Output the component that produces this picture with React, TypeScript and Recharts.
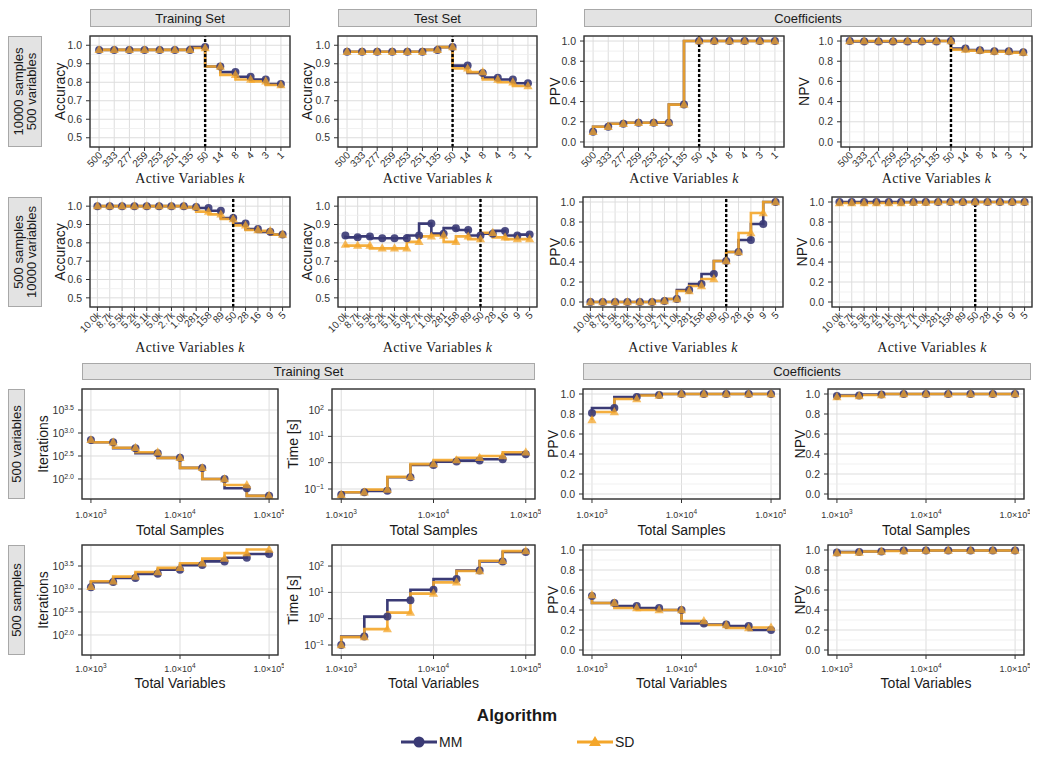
import React from 'react'
import { LineChart, Line, XAxis, YAxis, CartesianGrid, ReferenceLine } from 'recharts'

const NAVY = '#3a3a75'
const GOLD = '#f4a62a'
const INK = '#333333'
const SANS = '"Liberation Sans", Arial, Helvetica, sans-serif'
const SERIF = '"Liberation Serif", "DejaVu Serif", serif'

// 10000 samples / 500 variables, active variables k
const kTop = ['500', '333', '277', '259', '253', '251', '135', '50', '14', '8', '4', '3', '1']
const topTrainMM = [0.975, 0.975, 0.975, 0.975, 0.975, 0.975, 0.975, 0.99, 0.885, 0.855, 0.83, 0.815, 0.79]
const topTrainSD = [0.975, 0.975, 0.975, 0.975, 0.975, 0.975, 0.975, 0.985, 0.885, 0.84, 0.815, 0.805, 0.785]
const topTestMM = [0.965, 0.965, 0.965, 0.965, 0.965, 0.965, 0.975, 0.99, 0.89, 0.85, 0.825, 0.815, 0.795]
const topTestSD = [0.965, 0.965, 0.965, 0.965, 0.965, 0.965, 0.975, 0.99, 0.875, 0.855, 0.815, 0.8, 0.78]
const topPpvMM = [0.1, 0.15, 0.18, 0.19, 0.19, 0.19, 0.37, 1, 1, 1, 1, 1, 1]
const topPpvSD = [0.1, 0.15, 0.18, 0.19, 0.19, 0.195, 0.37, 1, 1, 1, 1, 1, 1]
const topNpvMM = [1, 0.995, 0.995, 0.995, 0.995, 0.995, 0.995, 1, 0.925, 0.91, 0.9, 0.9, 0.89]
const topNpvSD = [1, 1, 1, 1, 1, 1, 1, 1, 0.915, 0.905, 0.895, 0.895, 0.885]

// 500 samples / 10000 variables
const kMid = ['10.0k', '8.7k', '5.5k', '5.2k', '5.1k', '5.0k', '2.7k', '1.0k', '281', '158', '89', '50', '28', '16', '9', '5']
const midTrainMM = [1, 1, 1, 1, 1, 1, 1, 1, 0.995, 0.99, 0.975, 0.935, 0.905, 0.875, 0.86, 0.845]
const midTrainSD = [1, 1, 1, 1, 1, 1, 1, 1, 0.995, 0.97, 0.955, 0.93, 0.895, 0.87, 0.865, 0.845]
const midTestMM = [0.84, 0.83, 0.835, 0.825, 0.825, 0.825, 0.84, 0.905, 0.85, 0.88, 0.87, 0.84, 0.85, 0.865, 0.84, 0.845]
const midTestSD = [0.79, 0.785, 0.785, 0.77, 0.77, 0.77, 0.805, 0.835, 0.84, 0.805, 0.835, 0.82, 0.855, 0.83, 0.82, 0.82]
const midPpvMM = [0, 0, 0, 0, 0, 0, 0.01, 0.03, 0.12, 0.18, 0.28, 0.41, 0.5, 0.62, 0.78, 1]
const midPpvSD = [0, 0, 0, 0, 0, 0, 0.01, 0.03, 0.11, 0.16, 0.23, 0.41, 0.5, 0.69, 0.89, 1]
const midNpvMM = [1, 1, 1, 1, 1, 1, 1, 1, 1, 1, 1, 1, 1, 1, 1, 1]
const midNpvSD = [0.99, 0.99, 0.99, 0.99, 0.99, 0.99, 0.995, 0.995, 1, 1, 1, 1, 1, 1, 1, 1]

// problem sizes on the log axis
const sizes = [1000, 1778, 3162, 5623, 10000, 17783, 31623, 56234, 100000]
const itSampMM = [708, 631, 468, 363, 288, 174, 100, 63, 43]
const itSampSD = [708, 631, 479, 380, 288, 174, 100, 74, 43]
const timeSampMM = [0.06, 0.075, 0.085, 0.28, 0.82, 1.1, 1.2, 1.35, 2.1]
const timeSampSD = [0.06, 0.075, 0.095, 0.29, 0.88, 1.25, 1.55, 1.8, 2.5]
const ppvSampMM = [0.81, 0.86, 0.97, 0.99, 1, 1, 1, 1, 1]
const ppvSampSD = [0.74, 0.82, 0.95, 0.985, 1, 1, 1, 1, 1]
const npvSampMM = [0.98, 0.985, 0.995, 1, 1, 1, 1, 1, 1]
const npvSampSD = [0.97, 0.98, 0.99, 1, 1, 1, 1, 1, 1]

const itVarMM = [1096, 1413, 1738, 2138, 2630, 3311, 3981, 4786, 5754]
const itVarSD = [1122, 1479, 1862, 2344, 2884, 3631, 4571, 6026, 7244]
const timeVarMM = [0.1, 0.21, 1.2, 5, 12.5, 32, 68, 150, 340]
const timeVarSD = [0.1, 0.2, 0.4, 1.7, 9, 24, 65, 160, 370]
const ppvVarMM = [0.54, 0.47, 0.44, 0.42, 0.4, 0.265, 0.255, 0.24, 0.2]
const ppvVarSD = [0.55, 0.47, 0.42, 0.4, 0.4, 0.29, 0.25, 0.22, 0.225]
const npvVarMM = [0.975, 0.98, 0.985, 0.995, 0.995, 0.995, 0.995, 0.995, 0.995]
const npvVarSD = [0.97, 0.975, 0.985, 0.99, 0.995, 0.995, 0.995, 0.995, 0.995]

const accTicks = [0.5, 0.6, 0.7, 0.8, 0.9, 1.0]
const accMinor = [0.55, 0.65, 0.75, 0.85, 0.95]
const rateTicks = [0, 0.2, 0.4, 0.6, 0.8, 1]
const rateMinor = [0.1, 0.3, 0.5, 0.7, 0.9]
const iterTicks = [100, 316.23, 1000, 3162.28]
const timeTicks = [0.1, 1, 10, 100]
const sizeTicks = [1000, 10000, 100000]

type Pt = { x: string | number; mm: number; sd: number }
const zip = (xs: (string | number)[], mm: number[], sd: number[]): Pt[] =>
  xs.map((x, i) => ({ x, mm: mm[i], sd: sd[i] }))

type Fmt = (v: number) => [string, string]
const plain: Fmt = v => [v.toFixed(1), '']
const pow10: Fmt = v => ['10', String(Math.round(Math.log10(v))).replace('-', '\u2212')]
const pow10half: Fmt = v => ['10', Math.log10(v).toFixed(1)]
const sci: Fmt = v => ['1.0\u00d710', String(Math.round(Math.log10(v)))]

interface YSpec { domain: [number, number]; ticks: number[]; minor: number[]; log?: boolean; fmt: Fmt }
const accY: YSpec = { domain: [0.45, 1.05], ticks: accTicks, minor: accMinor, fmt: plain }
const rateY: YSpec = { domain: [-0.05, 1.05], ticks: rateTicks, minor: rateMinor, fmt: plain }
const iterY: YSpec = { domain: [36.7, 9057], ticks: iterTicks, minor: [], log: true, fmt: pow10half }
const timeY: YSpec = { domain: [0.0417, 631], ticks: timeTicks, minor: [], log: true, fmt: pow10 }

interface Spec {
  left: number; top: number; w: number; h: number
  data: Pt[]; y: YSpec; title: string; off: number
  xTitle: string; xTitleY: number
  logX?: boolean; cut?: string; tickGap?: number
}

const AV = 'Active Variables'
const panels: Spec[] = [
  { left: 90, top: 36, w: 200, h: 111, data: zip(kTop, topTrainMM, topTrainSD), y: accY, title: 'Accuracy', off: 30, xTitle: AV, xTitleY: 178, cut: '50' },
  { left: 338, top: 36, w: 199, h: 111, data: zip(kTop, topTestMM, topTestSD), y: accY, title: 'Accuracy', off: 31, xTitle: AV, xTitleY: 178, cut: '50' },
  { left: 584, top: 36, w: 200, h: 111, data: zip(kTop, topPpvMM, topPpvSD), y: rateY, title: 'PPV', off: 29, xTitle: AV, xTitleY: 178, cut: '50' },
  { left: 841, top: 36, w: 191, h: 111, data: zip(kTop, topNpvMM, topNpvSD), y: rateY, title: 'NPV', off: 37, xTitle: AV, xTitleY: 178, cut: '50' },

  { left: 90, top: 197, w: 200, h: 110, data: zip(kMid, midTrainMM, midTrainSD), y: accY, title: 'Accuracy', off: 30, xTitle: AV, xTitleY: 347, cut: '50' },
  { left: 338, top: 197, w: 199, h: 110, data: zip(kMid, midTestMM, midTestSD), y: accY, title: 'Accuracy', off: 31, xTitle: AV, xTitleY: 347, cut: '50' },
  { left: 583, top: 197, w: 200, h: 110, data: zip(kMid, midPpvMM, midPpvSD), y: rateY, title: 'PPV', off: 28, xTitle: AV, xTitleY: 347, cut: '50' },
  { left: 832, top: 197, w: 200, h: 110, data: zip(kMid, midNpvMM, midNpvSD), y: rateY, title: 'NPV', off: 30, xTitle: AV, xTitleY: 347, cut: '50' },

  { left: 82, top: 389, w: 196, h: 110, data: zip(sizes, itSampMM, itSampSD), y: iterY, title: 'Iterations', off: 39, xTitle: 'Total Samples', xTitleY: 530, logX: true, tickGap: 14 },
  { left: 332, top: 389, w: 203, h: 110, data: zip(sizes, timeSampMM, timeSampSD), y: timeY, title: 'Time [s]', off: 39, xTitle: 'Total Samples', xTitleY: 530, logX: true, tickGap: 14 },
  { left: 583, top: 389, w: 197, h: 110, data: zip(sizes, ppvSampMM, ppvSampSD), y: rateY, title: 'PPV', off: 30, xTitle: 'Total Samples', xTitleY: 530, logX: true, tickGap: 14 },
  { left: 828, top: 389, w: 196, h: 110, data: zip(sizes, npvSampMM, npvSampSD), y: rateY, title: 'NPV', off: 28, xTitle: 'Total Samples', xTitleY: 530, logX: true, tickGap: 14 },

  { left: 82, top: 545, w: 196, h: 110, data: zip(sizes, itVarMM, itVarSD), y: iterY, title: 'Iterations', off: 39, xTitle: 'Total Variables', xTitleY: 683, logX: true, tickGap: 12 },
  { left: 332, top: 545, w: 203, h: 110, data: zip(sizes, timeVarMM, timeVarSD), y: timeY, title: 'Time [s]', off: 39, xTitle: 'Total Variables', xTitleY: 683, logX: true, tickGap: 12 },
  { left: 583, top: 545, w: 197, h: 110, data: zip(sizes, ppvVarMM, ppvVarSD), y: rateY, title: 'PPV', off: 30, xTitle: 'Total Variables', xTitleY: 683, logX: true, tickGap: 12 },
  { left: 828, top: 545, w: 196, h: 110, data: zip(sizes, npvVarMM, npvVarSD), y: rateY, title: 'NPV', off: 28, xTitle: 'Total Variables', xTitleY: 683, logX: true, tickGap: 12 },
]

const yTick = (fmt: Fmt) => (props: any) => {
  const { x, y, payload } = props
  const [b, e] = fmt(payload.value)
  return (
    <text x={x} y={y} dy="0.35em" textAnchor="end" fontSize={10.5} fontFamily={SANS} fill={INK}>
      {b}
      {e && <tspan dy={-4} fontSize={7}>{e}</tspan>}
    </text>
  )
}

const rotTick = (props: any) => {
  const { x, y, payload } = props
  return (
    <text x={x} y={y} transform={`rotate(-45 ${x} ${y})`} dy="0.55em" textAnchor="end" fontSize={10} fontFamily={SANS} fill={INK}>
      {payload.value}
    </text>
  )
}

const logXTick = (gap: number) => (props: any) => {
  const { x, payload } = props
  const [b, e] = sci(payload.value)
  const yy = props.y - 4 + gap
  return (
    <text x={x} y={yy} dy="0.35em" textAnchor="middle" fontSize={9} fontFamily={SANS} fill={INK}>
      {b}
      <tspan dy={-4} fontSize={6.5}>{e}</tspan>
    </text>
  )
}

const circleDot = (props: any) => {
  const { cx, cy, index } = props
  if (cx == null || cy == null) return <g key={`c${index}`} />
  return <circle key={`c${index}`} cx={cx} cy={cy} r={4} fill={NAVY} fillOpacity={0.9} />
}

const triDot = (props: any) => {
  const { cx, cy, index } = props
  if (cx == null || cy == null) return <g key={`t${index}`} />
  return <path key={`t${index}`} d={`M${cx},${cy - 5}L${cx + 4.6},${cy + 3.2}L${cx - 4.6},${cy + 3.2}Z`} fill={GOLD} fillOpacity={0.75} />
}

function Panel({ p }: { p: Spec }) {
  const YW = 60
  const PAD = 6
  const XH = p.logX ? 30 : 46
  const n = p.data.length
  const pad = 0.6 * p.w / (n - 1 + 1.2)
  return (
    <div style={{ position: 'absolute', left: p.left - YW, top: p.top - PAD }}>
      <LineChart
        width={YW + p.w + PAD}
        height={PAD + p.h + XH}
        data={p.data}
        margin={{ top: PAD, right: PAD, bottom: 0, left: 0 }}
      >
        <CartesianGrid stroke="#dddddd" strokeWidth={1} />
        {p.y.minor.map(v => (
          <ReferenceLine key={v} y={v} stroke="#eeeeee" strokeWidth={0.8} />
        ))}
        {p.logX ? (
          <XAxis
            dataKey="x"
            type="number"
            scale="log"
            domain={[794, 125893]}
            ticks={sizeTicks}
            allowDataOverflow
            interval={0}
            height={XH}
            tickSize={4}
            tickLine={{ stroke: INK }}
            axisLine={false}
            tick={logXTick(p.tickGap ?? 14)}
          />
        ) : (
          <XAxis
            dataKey="x"
            type="category"
            scale="point"
            padding={{ left: pad, right: pad }}
            interval={0}
            height={XH}
            tickSize={4}
            tickMargin={1}
            tickLine={{ stroke: INK }}
            axisLine={false}
            tick={rotTick}
          />
        )}
        <YAxis
          type="number"
          scale={p.y.log ? 'log' : 'linear'}
          domain={p.y.domain}
          ticks={p.y.ticks}
          allowDataOverflow
          interval={0}
          width={YW}
          tickSize={4}
          tickMargin={4}
          tickLine={{ stroke: INK }}
          axisLine={false}
          tick={yTick(p.y.fmt)}
        />
        <Line dataKey="mm" type="stepBefore" stroke={NAVY} strokeWidth={2.6} dot={false} activeDot={false} isAnimationActive={false} />
        <Line dataKey="sd" type="stepBefore" stroke={GOLD} strokeWidth={2.6} strokeOpacity={0.9} dot={false} activeDot={false} isAnimationActive={false} />
        {p.cut && <ReferenceLine x={p.cut} stroke="#000" strokeWidth={2.4} strokeDasharray="3 2" />}
        <Line dataKey="mm" type="stepBefore" stroke="none" dot={circleDot} activeDot={false} isAnimationActive={false} />
        <Line dataKey="sd" type="stepBefore" stroke="none" dot={triDot} activeDot={false} isAnimationActive={false} />
      </LineChart>
    </div>
  )
}

function Strip({ x, y, w, h, label }: { x: number; y: number; w: number; h: number; label: string }) {
  return (
    <g>
      <rect x={x + 0.5} y={y + 0.5} width={w - 1} height={h - 1} fill="#e3e3e3" stroke="#a8a8a8" strokeWidth={1} />
      <text x={x + w / 2} y={y + h / 2} dy="0.36em" textAnchor="middle" fontSize={13} fontFamily={SANS} fill="#1a1a1a">
        {label}
      </text>
    </g>
  )
}

function RowStrip({ x, y, w, h, lines }: { x: number; y: number; w: number; h: number; lines: string[] }) {
  const cx = x + w / 2
  const cy = y + h / 2
  const step = 13
  return (
    <g>
      <rect x={x + 0.5} y={y + 0.5} width={w - 1} height={h - 1} fill="#e3e3e3" stroke="#a8a8a8" strokeWidth={1} />
      {lines.map((s, i) => {
        const lx = cx + (i - (lines.length - 1) / 2) * step
        return (
          <text key={s} x={lx} y={cy} dy="0.36em" transform={`rotate(-90 ${lx} ${cy})`} textAnchor="middle" fontSize={13} fontFamily={SANS} fill="#1a1a1a">
            {s}
          </text>
        )
      })}
    </g>
  )
}

export default function App() {
  return (
    <div style={{ position: 'absolute', left: 0, top: 0, width: 1050, height: 764, background: '#fff', overflow: 'hidden' }}>
      {panels.map((p, i) => <Panel key={i} p={p} />)}
      <svg width={1050} height={764} style={{ position: 'absolute', left: 0, top: 0, pointerEvents: 'none' }}>
        <Strip x={90} y={9} w={200} h={18} label="Training Set" />
        <Strip x={338} y={9} w={199} h={18} label="Test Set" />
        <Strip x={584} y={9} w={448} h={18} label="Coefficients" />
        <Strip x={82} y={363} w={453} h={17} label="Training Set" />
        <Strip x={583} y={363} w={448} h={17} label="Coefficients" />

        <RowStrip x={8} y={36} w={34} h={111} lines={['10000 samples', '500 variables']} />
        <RowStrip x={8} y={197} w={34} h={110} lines={['500 samples', '10000 variables']} />
        <RowStrip x={8} y={389} w={17} h={110} lines={['500 variables']} />
        <RowStrip x={8} y={545} w={17} h={110} lines={['500 samples']} />

        {panels.map((p, i) => {
          const cx = p.left - p.off
          const cy = p.top + p.h / 2
          const mx = p.left + p.w / 2
          return (
            <g key={i}>
              <rect x={p.left} y={p.top} width={p.w} height={p.h} fill="none" stroke={INK} strokeWidth={1.4} />
              <text x={cx} y={cy} dy="0.36em" transform={`rotate(-90 ${cx} ${cy})`} textAnchor="middle" fontSize={14} fontFamily={SANS} fill="#1a1a1a">
                {p.title}
              </text>
              {p.logX ? (
                <text x={mx} y={p.xTitleY} dy="0.36em" textAnchor="middle" fontSize={14} fontFamily={SANS} fill="#1a1a1a">
                  {p.xTitle}
                </text>
              ) : (
                <text x={mx} y={p.xTitleY} dy="0.36em" textAnchor="middle" fontSize={14} fontFamily={SERIF} fill="#1a1a1a" letterSpacing={0.4}>
                  {p.xTitle} <tspan fontStyle="italic">k</tspan>
                </text>
              )}
            </g>
          )
        })}

        <text x={517} y={715} dy="0.36em" textAnchor="middle" fontSize={17} fontWeight="bold" fontFamily={SANS} fill="#1a1a1a">
          Algorithm
        </text>
        <line x1={401} x2={437} y1={742} y2={742} stroke={NAVY} strokeWidth={3} />
        <circle cx={419} cy={742} r={5.5} fill={NAVY} />
        <text x={439} y={742} dy="0.36em" fontSize={14} fontFamily={SANS} fill="#1a1a1a">MM</text>
        <line x1={577} x2={613} y1={742} y2={742} stroke={GOLD} strokeWidth={3} />
        <path d="M595,736L601,746L589,746Z" fill={GOLD} />
        <text x={615} y={742} dy="0.36em" fontSize={14} fontFamily={SANS} fill="#1a1a1a">SD</text>
      </svg>
    </div>
  )
}
